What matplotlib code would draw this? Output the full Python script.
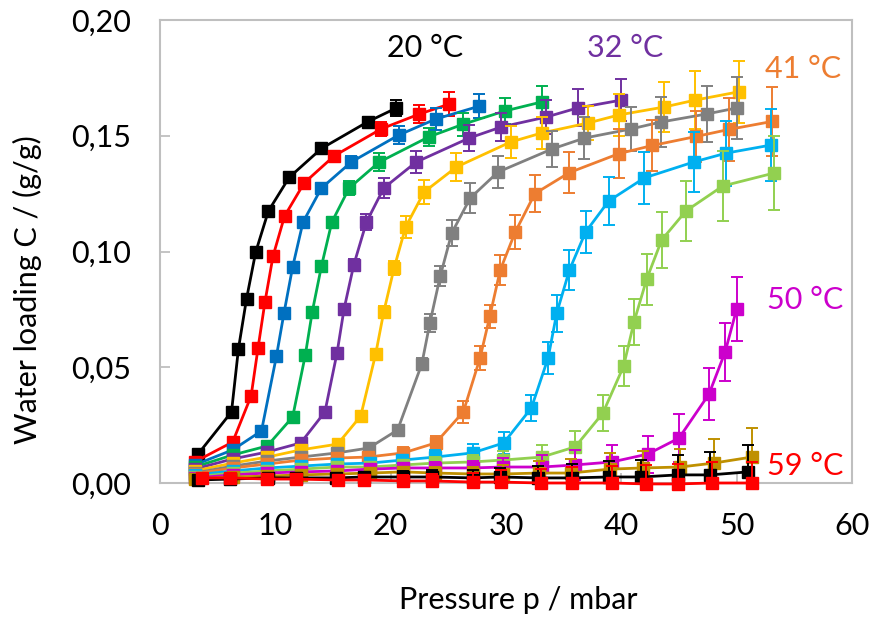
import matplotlib
matplotlib.use("Agg")
import matplotlib.pyplot as plt

# isotherms, pressure in mbar, loading in g/g, error bars in g/g
p20 = [3.3, 6.2, 6.8, 7.5, 8.3, 9.4, 11.2, 14.0, 18.0, 20.5]
c20 = [0.0125, 0.0307, 0.0579, 0.0795, 0.0998, 0.1175, 0.1320, 0.1445, 0.1560, 0.1620]
e20 = [0.001, 0.001, 0.001, 0.001, 0.001, 0.001, 0.001, 0.0015, 0.002, 0.0036]

p23 = [3.0, 6.3, 7.9, 8.5, 9.1, 9.8, 10.8, 12.5, 15.1, 19.2, 22.5, 25.1]
c23 = [0.0091, 0.0177, 0.0376, 0.0583, 0.0782, 0.0980, 0.1153, 0.1296, 0.1413, 0.1530, 0.1594, 0.1637]
e23 = [0.001, 0.001, 0.001, 0.001, 0.001, 0.001, 0.0015, 0.0015, 0.002, 0.003, 0.004, 0.005]

p26 = [3.0, 6.3, 8.8, 10.1, 10.75, 11.5, 12.4, 14.0, 16.6, 20.7, 23.9, 27.7]
c26 = [0.0078, 0.0143, 0.0225, 0.0549, 0.0734, 0.0933, 0.1127, 0.1274, 0.1387, 0.1503, 0.1572, 0.1628]
e26 = [0.001, 0.001, 0.001, 0.001, 0.0015, 0.0015, 0.0015, 0.002, 0.0025, 0.0037, 0.0047, 0.0053]

p29 = [3.0, 6.3, 9.3, 11.5, 12.6, 13.2, 14.0, 14.9, 16.4, 19.0, 23.3, 26.3, 29.9, 33.1]
c29 = [0.0069, 0.0121, 0.0160, 0.0285, 0.0553, 0.0739, 0.0937, 0.1127, 0.1274, 0.1386, 0.1495, 0.1550, 0.1607, 0.1646]
e29 = [0.001, 0.001, 0.001, 0.0015, 0.0015, 0.0015, 0.002, 0.002, 0.003, 0.004, 0.004, 0.005, 0.0058, 0.0068]

p32 = [3.0, 6.3, 9.3, 12.2, 14.3, 15.35, 15.96, 16.8, 17.9, 19.4, 22.2, 26.8, 29.6, 33.5, 36.2, 40.0]
c32 = [0.0060, 0.0104, 0.0134, 0.0173, 0.0307, 0.0562, 0.0752, 0.0942, 0.1127, 0.1274, 0.1386, 0.1490, 0.1538, 0.1581, 0.1620, 0.1654]
e32 = [0.001, 0.001, 0.001, 0.0015, 0.0015, 0.002, 0.002, 0.0025, 0.0036, 0.0043, 0.0047, 0.0055, 0.006, 0.0075, 0.008, 0.009]

p35 = [3.0, 6.3, 9.3, 12.2, 15.4, 17.4, 18.7, 19.4, 20.3, 21.3, 22.9, 25.7, 30.4, 33.1, 37.1, 39.8, 43.7, 46.4, 50.2]
c35 = [0.0052, 0.0086, 0.0112, 0.0143, 0.0168, 0.0289, 0.0557, 0.0739, 0.0929, 0.1106, 0.1257, 0.1365, 0.1473, 0.1512, 0.1555, 0.1590, 0.1624, 0.1654, 0.1690]
e35 = [0.001, 0.001, 0.001, 0.0015, 0.0015, 0.002, 0.002, 0.0025, 0.003, 0.0047, 0.005, 0.006, 0.0067, 0.007, 0.0075, 0.009, 0.0107, 0.0124, 0.0133]

p38 = [3.0, 6.3, 9.3, 12.2, 15.35, 18.1, 20.6, 22.7, 23.4, 24.3, 25.3, 26.9, 29.3, 34.0, 36.8, 40.8, 43.4, 47.4, 50.0]
c38 = [0.0043, 0.0073, 0.0095, 0.0112, 0.0130, 0.0151, 0.0229, 0.0514, 0.0691, 0.0894, 0.1080, 0.1231, 0.1343, 0.1443, 0.1490, 0.1529, 0.1559, 0.1594, 0.1620]
e38 = [0.001, 0.001, 0.001, 0.001, 0.0015, 0.0015, 0.002, 0.0025, 0.004, 0.0043, 0.0058, 0.0063, 0.007, 0.0078, 0.009, 0.0095, 0.0108, 0.0122, 0.0135]

p41 = [3.0, 6.3, 9.3, 12.2, 15.35, 18.0, 21.1, 23.9, 26.3, 27.75, 28.6, 29.5, 30.8, 32.5, 35.5, 39.8, 42.7, 46.5, 49.3, 53.1]
c41 = [0.0039, 0.0065, 0.0082, 0.0099, 0.0108, 0.0112, 0.0130, 0.0173, 0.0307, 0.0540, 0.0721, 0.0920, 0.1084, 0.1250, 0.1341, 0.1423, 0.1458, 0.1497, 0.1527, 0.1562]
e41 = [0.001, 0.001, 0.0015, 0.0015, 0.002, 0.002, 0.0025, 0.003, 0.0047, 0.005, 0.005, 0.0063, 0.0072, 0.008, 0.009, 0.0104, 0.011, 0.011, 0.0137, 0.015]

p44 = [3.0, 6.3, 9.3, 12.2, 15.35, 18.2, 21.0, 23.85, 27.1, 29.8, 32.2, 33.65, 34.4, 35.5, 36.9, 38.9, 42.0, 46.3, 49.1, 53.0]
c44 = [0.0035, 0.0052, 0.0065, 0.0073, 0.0082, 0.0086, 0.0099, 0.0112, 0.0130, 0.0173, 0.0324, 0.0540, 0.0734, 0.0920, 0.1084, 0.1218, 0.1318, 0.1387, 0.1425, 0.1460]
e44 = [0.001, 0.001, 0.001, 0.001, 0.0015, 0.0015, 0.002, 0.003, 0.004, 0.0046, 0.0058, 0.0068, 0.008, 0.0085, 0.009, 0.0104, 0.0113, 0.013, 0.014, 0.0155]

p47 = [3.0, 6.3, 9.3, 12.2, 15.35, 18.2, 21.1, 23.85, 27.1, 29.7, 33.1, 36.0, 38.4, 40.2, 41.1, 42.2, 43.5, 45.6, 48.8, 53.25]
c47 = [0.0026, 0.0043, 0.0052, 0.0060, 0.0069, 0.0069, 0.0078, 0.0086, 0.0091, 0.0099, 0.0112, 0.0156, 0.0302, 0.0505, 0.0696, 0.0881, 0.1050, 0.1175, 0.1283, 0.1339]
e47 = [0.001, 0.001, 0.001, 0.0015, 0.0015, 0.002, 0.002, 0.0025, 0.003, 0.004, 0.0053, 0.0068, 0.0079, 0.0088, 0.010, 0.011, 0.012, 0.013, 0.015, 0.016]

p50 = [3.0, 6.3, 9.3, 12.2, 15.35, 18.2, 21.1, 23.85, 27.1, 29.7, 33.1, 36.0, 39.2, 42.3, 45.0, 47.6, 49.0, 50.0]
c50 = [0.0022, 0.0035, 0.0043, 0.0048, 0.0052, 0.0060, 0.0065, 0.0065, 0.0065, 0.0069, 0.0069, 0.0078, 0.0091, 0.0125, 0.0194, 0.0384, 0.0566, 0.0752]
e50 = [0.001, 0.001, 0.001, 0.0015, 0.0015, 0.002, 0.002, 0.0025, 0.003, 0.004, 0.005, 0.0065, 0.0075, 0.008, 0.0104, 0.0114, 0.0126, 0.0138]

p53 = [3.0, 6.3, 9.3, 12.2, 15.35, 18.2, 21.1, 23.85, 27.1, 29.7, 32.9, 35.6, 39.0, 41.9, 45.1, 48.0, 51.3]
c53 = [0.0017, 0.0026, 0.0030, 0.0035, 0.0039, 0.0043, 0.0048, 0.0043, 0.0039, 0.0039, 0.0043, 0.0043, 0.0060, 0.0065, 0.0069, 0.0086, 0.0112]
e53 = [0.001, 0.001, 0.001, 0.0015, 0.0015, 0.002, 0.002, 0.0025, 0.003, 0.004, 0.005, 0.006, 0.0068, 0.0075, 0.008, 0.0105, 0.0124]

p56 = [3.3, 6.1, 9.4, 11.8, 15.3, 17.7, 21.1, 23.6, 27.1, 29.5, 32.8, 35.7, 38.9, 41.7, 44.9, 47.7, 51.0]
c56 = [0.0013, 0.0017, 0.0022, 0.0022, 0.0022, 0.0026, 0.0026, 0.0026, 0.0022, 0.0026, 0.0022, 0.0022, 0.0026, 0.0026, 0.0035, 0.0035, 0.0048]
e56 = [0.001, 0.001, 0.0015, 0.0015, 0.002, 0.002, 0.0025, 0.003, 0.0035, 0.004, 0.005, 0.006, 0.007, 0.0075, 0.0086, 0.010, 0.0115]

p59 = [3.6, 6.1, 9.3, 11.8, 15.4, 17.7, 21.1, 23.6, 27.1, 29.6, 33.0, 35.7, 39.2, 42.1, 44.9, 47.9, 51.3]
c59 = [0.0022, 0.0022, 0.0017, 0.0017, 0.0013, 0.0013, 0.0009, 0.0009, 0.0004, 0.0004, 0.0, 0.0, 0.0, -0.0004, -0.0004, 0.0, 0.0]
e59 = [0.001, 0.001, 0.0015, 0.0015, 0.002, 0.002, 0.0025, 0.003, 0.004, 0.005, 0.006, 0.007, 0.0075, 0.008, 0.0085, 0.009, 0.009]

colors = ['#000000', '#FF0000', '#0070C0', '#00B050', '#7030A0', '#FFC000', '#808080',
          '#ED7D31', '#00B0F0', '#92D050', '#CC00CC', '#BF9000', '#000000', '#FF0000']

series = [(p20, c20, e20), (p23, c23, e23), (p26, c26, e26), (p29, c29, e29),
          (p32, c32, e32), (p35, c35, e35), (p38, c38, e38), (p41, c41, e41),
          (p44, c44, e44), (p47, c47, e47), (p50, c50, e50), (p53, c53, e53),
          (p56, c56, e56), (p59, c59, e59)]

plt.rcParams['font.family'] = ['Lato', 'DejaVu Sans']
fs = 22

fig = plt.figure(figsize=(8.75, 6.19), dpi=100)
ax = fig.add_axes([160 / 875, 1 - 483 / 619, 692 / 875, 463 / 619])

for i, ((p, c, e), col) in enumerate(zip(series, colors)):
    z = 3 + i
    ax.errorbar(p, c, yerr=e, fmt='none', ecolor=col, elinewidth=1.4,
                capsize=4, capthick=1.4, zorder=z)
    ax.plot(p, c, '-s', color=col, lw=2, markersize=8.5, clip_on=False, zorder=z)

# temperature labels
ax.text(23.0, 0.188, '20 °C', color='#000000', fontsize=fs, ha='center', va='center')
ax.text(40.3, 0.188, '32 °C', color='#7030A0', fontsize=fs, ha='center', va='center')
ax.text(55.8, 0.179, '41 °C', color='#ED7D31', fontsize=fs, ha='center', va='center')
ax.text(55.9, 0.079, '50 °C', color='#CC00CC', fontsize=fs, ha='center', va='center')
ax.text(55.9, 0.0073, '59 °C', color='#FF0000', fontsize=fs, ha='center', va='center', zorder=20)

ax.set_xlim(0, 60)
ax.set_ylim(0, 0.20)
ax.set_xticks(range(0, 61, 10))
yt = [0.0, 0.05, 0.10, 0.15, 0.20]
ax.set_yticks(yt)
ax.set_yticklabels([f'{v:.2f}'.replace('.', ',') for v in yt])

for s in ax.spines.values():
    s.set_color('#BFBFBF')
    s.set_linewidth(1.5)
ax.tick_params(direction='in', length=7, width=1.3, color='#BFBFBF',
               labelsize=fs, pad=21)

ax.set_xlabel('Pressure p / mbar', fontsize=fs, va='center')
ax.set_ylabel('Water loading C / (g/g)', fontsize=fs, va='center')
ax.xaxis.set_label_coords(0.517, -0.253)
ax.yaxis.set_label_coords(-0.191, 0.417)

fig.savefig('out.png', dpi=100)
